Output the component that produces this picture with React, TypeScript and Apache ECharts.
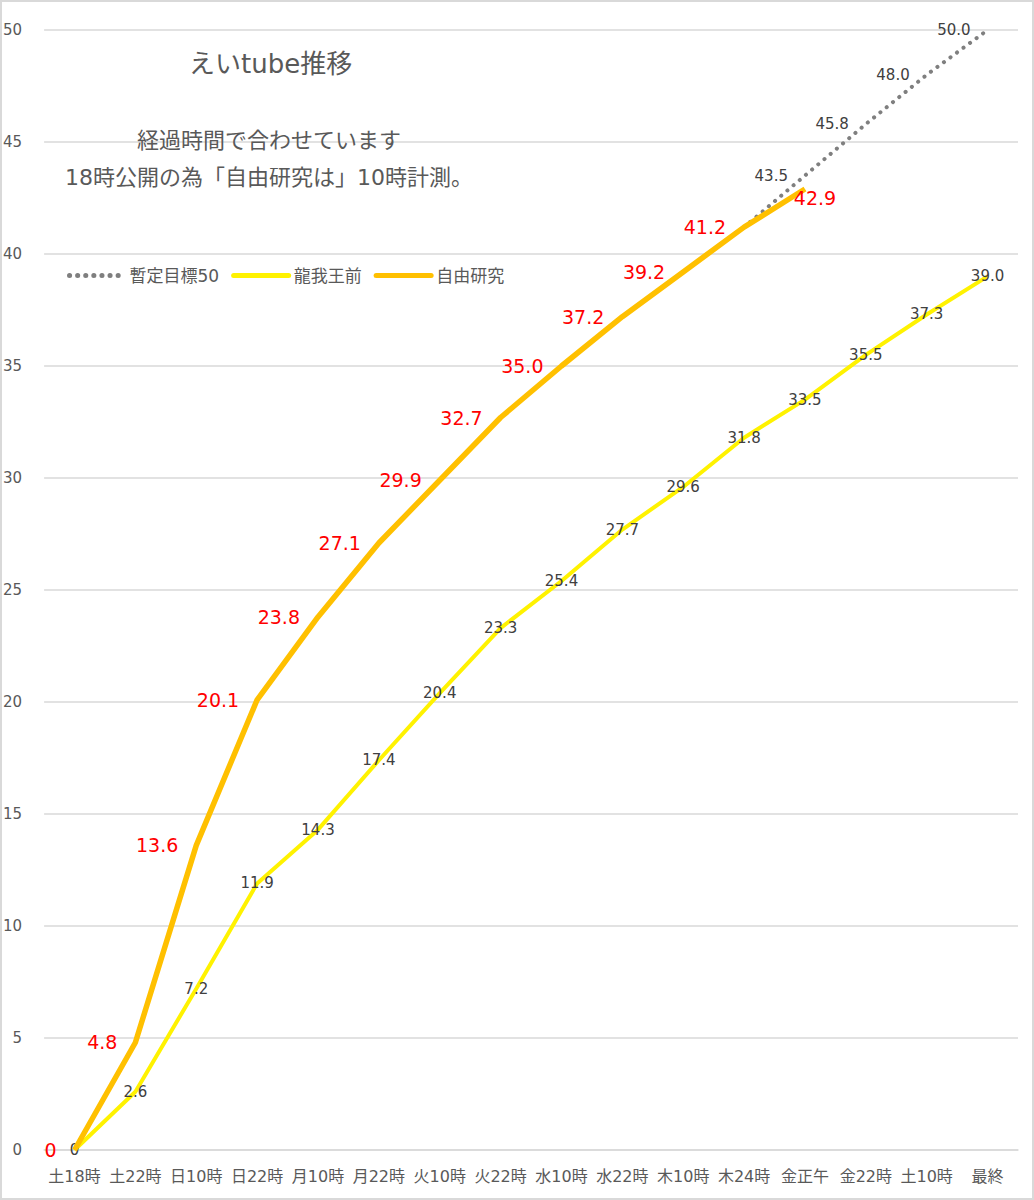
import { useEffect, useRef } from 'react';
import * as echarts from 'echarts';

const categories = [
  '土18時', '土22時', '日10時', '日22時', '月10時', '月22時', '火10時', '火22時',
  '水10時', '水22時', '木10時', '木24時', '金正午', '金22時', '土10時', '最終',
];
// 暫定目標50 (dotted target line, starts at 木24時)
const targetValues = [null, null, null, null, null, null, null, null, null, null, null, 41.2, 43.5, 45.8, 48.0, 50.0];
// 龍我王前
const ryugaValues = [0, 2.6, 7.2, 11.9, 14.3, 17.4, 20.4, 23.3, 25.4, 27.7, 29.6, 31.8, 33.5, 35.5, 37.3, 39.0];
// 自由研究
const jiyuValues = [0, 4.8, 13.6, 20.1, 23.8, 27.1, 29.9, 32.7, 35.0, 37.2, 39.2, 41.2, 42.9, null, null, null];

const FONT = "'DejaVu Sans', 'Noto Sans CJK JP', sans-serif";
const GRAY_TEXT = '#595959';
const LABEL_TEXT = '#404040';

function fmt(v: number): string {
  return v === 0 ? '0' : v.toFixed(1);
}

export default function App() {
  const ref = useRef<HTMLDivElement>(null);

  useEffect(() => {
    if (!ref.current) return;
    const chart = echarts.init(ref.current, undefined, { renderer: 'svg' });

    const firstTarget = targetValues.findIndex((x) => x !== null);
    const targetData = targetValues.map((v, i) =>
      v === null ? null : i === firstTarget ? { value: v, label: { show: false } } : v,
    );
    const lastJiyu = jiyuValues.reduce((acc: number, v, i) => (v !== null ? i : acc), 0);
    const jiyuData = jiyuValues.map((v, i) =>
      v === null ? null : i === lastJiyu ? { value: v, label: { position: 'inside', offset: [10, 9] } } : v,
    );

    chart.setOption({
      animation: false,
      textStyle: { fontFamily: FONT },
      title: [
        {
          text: 'えいtube推移',
          left: 184,
          top: 46,
          textStyle: { color: GRAY_TEXT, fontSize: 26, fontWeight: 'normal', fontFamily: FONT },
        },
        {
          text: '経過時間で合わせています',
          left: 132,
          top: 124,
          textStyle: { color: GRAY_TEXT, fontSize: 22, fontWeight: 'normal', fontFamily: FONT },
        },
        {
          text: '18時公開の為「自由研究は」10時計測。',
          left: 60,
          top: 161,
          textStyle: { color: GRAY_TEXT, fontSize: 22, fontWeight: 'normal', fontFamily: FONT },
        },
      ],
      legend: {
        left: 62,
        top: 262,
        itemWidth: 55,
        itemHeight: 14,
        itemGap: 12,
        itemStyle: { opacity: 0 },
        lineStyle: { width: 5, cap: 'round' },
        textStyle: { color: GRAY_TEXT, fontSize: 17, fontFamily: FONT },
        data: ['暫定目標50', '龍我王前', '自由研究'],
      },
      grid: { left: 44, right: 16, top: 30, bottom: 50 },
      xAxis: {
        type: 'category',
        data: categories,
        boundaryGap: true,
        axisLine: { lineStyle: { color: '#d9d9d9', width: 1.5 } },
        axisTick: { show: false },
        axisLabel: { color: GRAY_TEXT, fontSize: 16, margin: 18, interval: 0, fontFamily: FONT },
      },
      yAxis: {
        type: 'value',
        min: 0,
        max: 50,
        interval: 5,
        axisLine: { show: false },
        axisTick: { show: false },
        axisLabel: { color: GRAY_TEXT, fontSize: 15, margin: 22, fontFamily: FONT },
        splitLine: { lineStyle: { color: '#d9d9d9', width: 1.5 } },
      },
      series: [
        {
          name: '暫定目標50',
          type: 'line',
          data: targetData,
          symbol: 'circle',
          symbolSize: 0,
          showAllSymbol: true,
          lineStyle: { color: '#7f7f7f', width: 4, type: [0.1, 8], cap: 'round' },
          itemStyle: { color: '#7f7f7f' },
          label: {
            show: true,
            position: 'left',
            distance: 17,
            color: LABEL_TEXT,
            fontSize: 15,
            fontFamily: FONT,
            formatter: (p: any) => fmt(p.value),
          },
          z: 2,
        },
        {
          name: '龍我王前',
          type: 'line',
          data: ryugaValues,
          symbol: 'circle',
          symbolSize: 0,
          showAllSymbol: true,
          lineStyle: { color: '#fff200', width: 4 },
          itemStyle: { color: '#fff200' },
          label: {
            show: true,
            position: 'inside',
            color: LABEL_TEXT,
            fontSize: 15,
            fontFamily: FONT,
            formatter: (p: any) => fmt(p.value),
          },
          z: 3,
        },
        {
          name: '自由研究',
          type: 'line',
          data: jiyuData,
          symbol: 'circle',
          symbolSize: 0,
          showAllSymbol: true,
          lineStyle: { color: '#ffc000', width: 5.5 },
          itemStyle: { color: '#ffc000' },
          label: {
            show: true,
            position: 'left',
            distance: 18,
            color: '#ff0000',
            fontSize: 19,
            fontFamily: FONT,
            formatter: (p: any) => fmt(p.value),
          },
          z: 4,
        },
      ],
    });

    return () => {
      chart.dispose();
    };
  }, []);

  return (
    <div
      style={{
        position: 'absolute',
        left: 0,
        top: 0,
        width: 1034,
        height: 1200,
        boxSizing: 'border-box',
        border: '2px solid #d9d9d9',
        background: '#fff',
      }}
    >
      <div ref={ref} style={{ position: 'absolute', left: -2, top: -2, width: 1034, height: 1200 }} />
    </div>
  );
}
